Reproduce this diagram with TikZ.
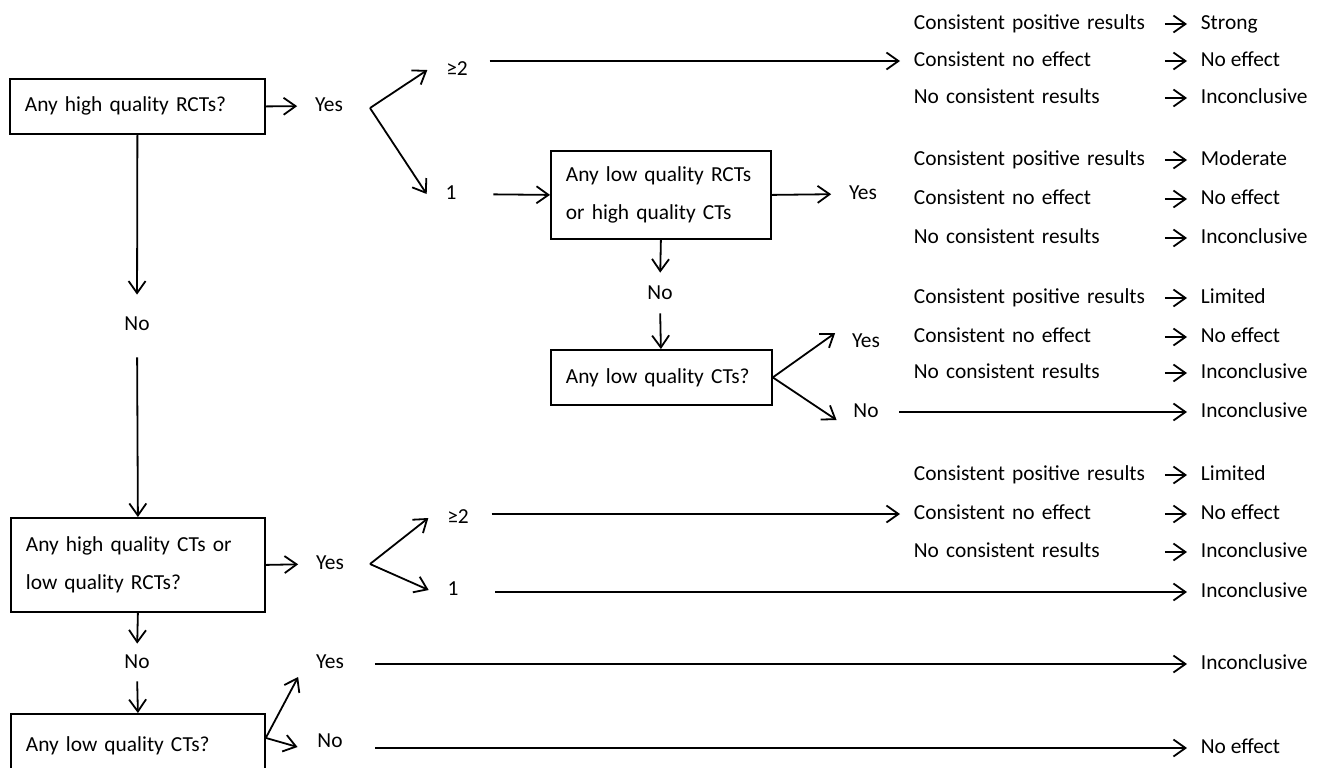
\documentclass[tikz,border=0pt]{standalone}
\usepackage{fontspec}
\setmainfont{Carlito}
\usetikzlibrary{arrows.meta}

\begin{document}
\begin{tikzpicture}[x=0.5pt,y=-0.5pt,
  font=\fontsize{10.7}{19}\selectfont,
  line width=0.9pt,
  arr/.style={-{Straight Barb[length=6pt,width=8.5pt]}},
  question/.style={draw,anchor=north west,align=left,inner xsep=7.5pt,inner ysep=0pt},
  lbl/.style={inner sep=0pt,text height=7.5pt,text depth=2pt},
  result/.style={lbl,anchor=west,text width=123pt,align=left},
  outcome/.style={lbl,anchor=west,inner xsep=6.5pt}]

  \useasboundingbox (0,0) rectangle (1327,767);

  % Questions
  \node [question,text width=112.5pt,minimum height=27.5pt] (hrct) at (9,78) {Any high quality RCTs?};
  \node [question,text width=95pt,minimum height=44pt] (lrct) at (550,150) {Any low quality RCTs\\or high quality CTs};
  \node [question,text width=95.5pt,minimum height=27.5pt] (lct) at (550,349) {Any low quality CTs?};
  \node [question,text width=112pt,minimum height=47pt] (hct) at (10,517) {Any high quality CTs or\\low quality RCTs?};
  \node [question,text width=112pt,minimum height=32pt] (lct2) at (10,713) {Any low quality CTs?};

  % Answers
  \node [lbl] (yes1) at (329,106) {Yes};
  \node [lbl] (two1) at (457,70) {≥2};
  \node [lbl] (one1) at (451,194) {1};
  \node [lbl] (yes2) at (863,194) {Yes};
  \node [lbl] (no2) at (660,294) {No};
  \node [lbl] (yes3) at (866,342) {Yes};
  \node [lbl] (no3) at (866,412) {No};
  \node [lbl] (no1) at (137,325) {No};
  \node [lbl] (yes4) at (330,564) {Yes};
  \node [lbl] (two4) at (458,518) {≥2};
  \node [lbl] (one4) at (453,590) {1};
  \node [lbl] (no4) at (137,663) {No};
  \node [lbl] (yes5) at (330,663) {Yes};
  \node [lbl] (no5) at (330,742) {No};

  % Results and levels of evidence
  \node [result] (r11) at (913,24) {Consistent positive results};
  \node [result] (r12) at (913,61) {Consistent no effect};
  \node [result] (r13) at (913,98) {No consistent results};
  \node [outcome] (o11) at (1187,24) {Strong};
  \node [outcome] (o12) at (1187,61) {No effect};
  \node [outcome] (o13) at (1187,98) {Inconclusive};

  \node [result] (r21) at (913,160) {Consistent positive results};
  \node [result] (r22) at (913,199) {Consistent no effect};
  \node [result] (r23) at (913,238) {No consistent results};
  \node [outcome] (o21) at (1187,160) {Moderate};
  \node [outcome] (o22) at (1187,199) {No effect};
  \node [outcome] (o23) at (1187,238) {Inconclusive};

  \node [result] (r31) at (913,298) {Consistent positive results};
  \node [result] (r32) at (913,337) {Consistent no effect};
  \node [result] (r33) at (913,373) {No consistent results};
  \node [outcome] (o31) at (1187,298) {Limited};
  \node [outcome] (o32) at (1187,337) {No effect};
  \node [outcome] (o33) at (1187,373) {Inconclusive};
  \node [outcome] (o34) at (1187,412) {Inconclusive};

  \node [result] (r41) at (913,475) {Consistent positive results};
  \node [result] (r42) at (913,514) {Consistent no effect};
  \node [result] (r43) at (913,552) {No consistent results};
  \node [outcome] (o41) at (1187,475) {Limited};
  \node [outcome] (o42) at (1187,514) {No effect};
  \node [outcome] (o43) at (1187,552) {Inconclusive};
  \node [outcome] (o44) at (1187,592) {Inconclusive};
  \node [outcome] (o5) at (1187,664) {Inconclusive};
  \node [outcome] (o6) at (1187,748) {No effect};

  \coordinate (f1) at (370,108);
  \coordinate (f4) at (370,564);

  % High quality RCTs
  \draw [arr,shorten >=8.5pt] (hrct.east) -- (yes1.west);
  \draw [arr] (f1) -- ([xshift=-9pt]two1.west);
  \draw [arr] (f1) -- ([xshift=-9pt]one1.west);
  \draw [arr] ([xshift=10.5pt]two1.east |- r12.west) -- ([xshift=-6.5pt]r12.west);
  \draw [arr,shorten <=18pt] (one1.east) -- (lrct.west);
  \draw [arr,shorten >=8.5pt] (lrct.east) -- (yes2.west);
  \draw [arr,shorten >=5.5pt] (lrct.south) -- (no2.north);
  \draw [arr,shorten <=4.5pt] (no2.south) -- (lrct.south |- lct.north);
  \draw [arr] (lct.east) -- ([xshift=-8pt,yshift=4.5pt]yes3.west);
  \draw [arr] (lct.east) -- ([xshift=-8pt,yshift=-4pt]no3.west);
  \draw [arr,shorten <=10pt] (no3.east) -- (o34.west);

  % High quality CTs or low quality RCTs
  \draw [arr,shorten >=10pt] (hrct.south) -- (no1.north);
  \draw [arr,shorten <=11pt] (no1.south) -- (hct.north);
  \draw [arr,shorten >=8.5pt] (hct.east) -- (yes4.west);
  \draw [arr] (f4) -- ([xshift=-9pt]two4.west);
  \draw [arr] (f4) -- ([xshift=-9pt]one4.west);
  \draw [arr] ([xshift=11pt]two4.east |- r42.west) -- ([xshift=-6.5pt]r42.west);
  \draw [arr] ([xshift=18pt]one4.east |- o44.west) -- (o44.west);

  % Low quality CTs
  \draw [arr,shorten >=4.5pt] (hct.south) -- (no4.north);
  \draw [arr,shorten <=4pt] (no4.south) -- (lct2.north);
  \draw [arr] ([yshift=4pt]lct2.east) -- ([xshift=-8.5pt,yshift=-7pt]yes5.west);
  \draw [arr] ([yshift=4pt]lct2.east) -- ([xshift=-9.5pt,yshift=-2.5pt]no5.west);
  \draw [arr] ([xshift=15pt]yes5.east |- o5.west) -- (o5.west);
  \draw [arr] ([xshift=16pt]no5.east |- o6.west) -- (o6.west);

  % Results to levels
  \draw [arr,shorten <=2pt] (r11.east) -- (o11.west);
  \draw [arr,shorten <=2pt] (r12.east) -- (o12.west);
  \draw [arr,shorten <=2pt] (r13.east) -- (o13.west);
  \draw [arr,shorten <=2pt] (r21.east) -- (o21.west);
  \draw [arr,shorten <=2pt] (r22.east) -- (o22.west);
  \draw [arr,shorten <=2pt] (r23.east) -- (o23.west);
  \draw [arr,shorten <=2pt] (r31.east) -- (o31.west);
  \draw [arr,shorten <=2pt] (r32.east) -- (o32.west);
  \draw [arr,shorten <=2pt] (r33.east) -- (o33.west);
  \draw [arr,shorten <=2pt] (r41.east) -- (o41.west);
  \draw [arr,shorten <=2pt] (r42.east) -- (o42.west);
  \draw [arr,shorten <=2pt] (r43.east) -- (o43.west);

\end{tikzpicture}
\end{document}
